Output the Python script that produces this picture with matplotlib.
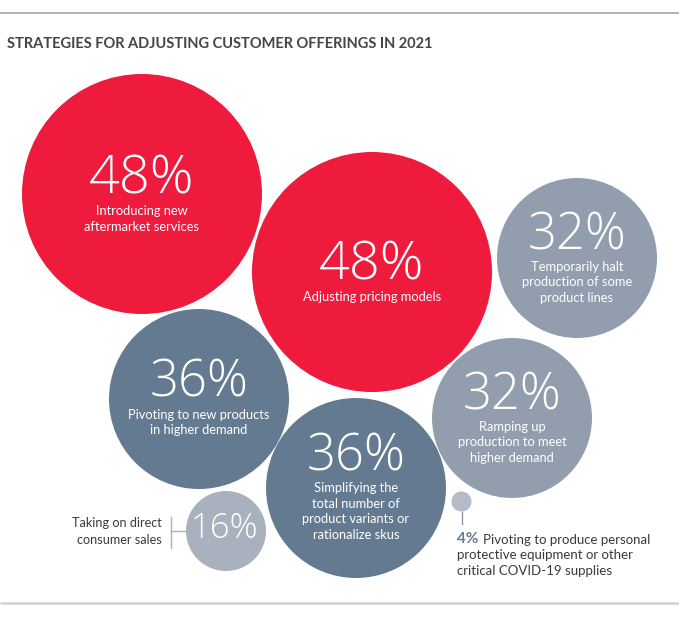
import matplotlib
matplotlib.use("Agg")
import matplotlib.pyplot as plt
from matplotlib.patches import Circle

# Data
vaerdier = [48, 48, 32, 36, 36, 32, 16, 4]
etiketter = [
    ["Introducing new", "aftermarket services"],
    ["Adjusting pricing models"],
    ["Temporarily halt", "production of some", "product lines"],
    ["Pivoting to new products", "in higher demand"],
    ["Simplifying the", "total number of", "product variants or", "rationalize skus"],
    ["Ramping up", "production to meet", "higher demand"],
    [],
    [],
]
titel = "STRATEGIES FOR ADJUSTING CUSTOMER OFFERINGS IN 2021"
note_16 = ["Taking on direct", "consumer sales"]
note_4 = ["Pivoting to produce personal", "protective equipment or other", "critical COVID-19 supplies"]

# Layout (pixel coordinates of the packed bubbles) and styles
_POS = [(142, 194), (372, 272), (577, 258), (199, 399),
        (356, 488), (512, 418), (226, 531), (461.5, 501.5)]
_FARVER = ["#EE1B3D", "#EE1B3D", "#929EAE", "#647A90",
           "#647A90", "#929EAE", "#A9B0BE", "#B5BBC8"]
_SKALA = 2.5          # radius i pixels pr. procentpoint
_FONT = "Lato"
_TALFONT = "Open Sans"

fig = plt.figure(figsize=(6.79, 6.17), dpi=100)
ax = fig.add_axes([0, 0, 1, 1])
ax.set_xlim(0, 679)
ax.set_ylim(617, 0)
ax.set_aspect("equal")
ax.axis("off")

# rammelinjer
ax.plot([0, 679], [13, 13], color="#A5A5A5", lw=1.2, solid_capstyle="butt")
ax.plot([0, 679], [603, 603], color="#D3D3D3", lw=1.8, solid_capstyle="butt")

ax.text(7, 43.5, titel, fontsize=10.5, fontweight="bold", color="#454545",
        family=_FONT, va="center", ha="left")

# bobler
for v, lab, (cx, cy), farve in zip(vaerdier, etiketter, _POS, _FARVER):
    ax.add_patch(Circle((cx, cy), v * _SKALA, facecolor=farve, edgecolor="none"))
    if v < 10:
        continue
    if not lab:
        ax.text(cx - 2, cy + 7, f"{v}%", fontsize=25, fontweight="light",
                color="white", family=_TALFONT, ha="center", va="baseline")
        continue
    H = 38 if v == 48 else (35 if v == 36 else 37)
    n = len(lab)
    total = H + 18 + (n - 1) * 15.5 + 6
    top = cy - total / 2
    fs = 39 if v == 48 else 36.5
    ax.text(cx, top + H, f"{v}%", fontsize=fs, fontweight="light",
            color="white", family=_TALFONT, ha="center", va="baseline")
    for i, linje in enumerate(lab):
        ax.text(cx, top + H + 18 + i * 15.5 + 4, linje, fontsize=9.3,
                color="white", family=_FONT, ha="center", va="baseline")

# note til 16%
cx16, cy16 = _POS[6]
r16 = vaerdier[6] * _SKALA
ax.plot([171, 171], [517, 548], color="#A9B0BE", lw=1)
ax.plot([171, cx16 - r16], [cy16, cy16], color="#A9B0BE", lw=1)
for i, linje in enumerate(note_16):
    ax.text(162, 527 + i * 17, linje, fontsize=9.1, color="#3A3A3A",
            family=_FONT, ha="right", va="baseline")

# note til 4%
cx4, cy4 = _POS[7]
r4 = vaerdier[7] * _SKALA
ax.plot([cx4, cx4], [cy4 + r4, 524], color="#8A97A8", lw=1)
t4 = ax.text(457, 543, f"{vaerdier[7]}%", fontsize=11, fontweight="bold",
             color="#667A90", family=_FONT, ha="left", va="baseline")
ax.annotate(note_4[0], xy=(1, 0), xycoords=t4, xytext=(3, 0),
            textcoords="offset points", fontsize=9.5, color="#3A3A3A",
            family=_FONT, ha="left", va="bottom")
for i, linje in enumerate(note_4[1:]):
    ax.text(457, 559 + i * 16, linje, fontsize=9.5, color="#3A3A3A",
            family=_FONT, ha="left", va="baseline")

fig.savefig("out.png", dpi=100)
